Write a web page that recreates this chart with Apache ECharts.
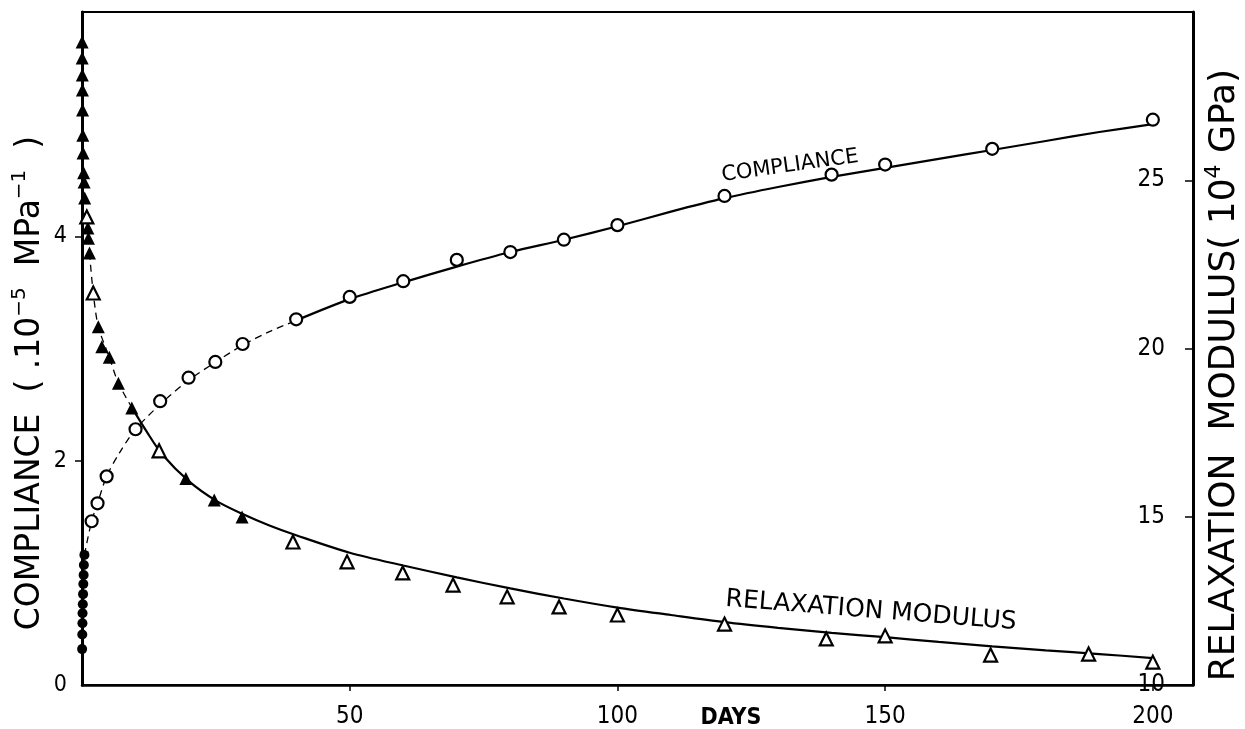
<!DOCTYPE html>
<html>
<head>
<meta charset="utf-8">
<script src="https://cdn.jsdelivr.net/npm/echarts@6/dist/echarts.min.js"></script>
<style>
  html, body { margin: 0; padding: 0; background: #fff; }
  #chart { width: 1245px; height: 729px; }
</style>
</head>
<body>
<div id="chart"></div>
<script>
// Compliance (left axis, 10^-5 MPa^-1): filled points at the first hours, open points afterwards
const complianceEarlyDays = [0.02, 0.05, 0.08, 0.1, 0.15, 0.2, 0.25, 0.3, 0.35, 0.45];
const complianceEarly     = [0.32, 0.45, 0.55, 0.64, 0.72, 0.81, 0.90, 0.98, 1.07, 1.16];
const complianceDays = [1.8, 2.9, 4.6, 10, 14.6, 19.9, 24.9, 30, 40, 50, 60, 70, 80, 90, 100, 120, 140, 150, 170, 200];
const compliance     = [1.46, 1.62, 1.86, 2.28, 2.53, 2.74, 2.88, 3.04, 3.26, 3.46, 3.60, 3.79, 3.86, 3.97, 4.10, 4.36, 4.55, 4.64, 4.78, 5.04];
// Fitted compliance curve
const complianceFitDays = [0.45, 1.8, 2.9, 4.6, 7, 10, 15, 20, 25, 30, 35, 40, 50, 60, 70, 80, 90, 100, 110, 120, 130, 140, 150, 160, 170, 180, 190, 200];
const complianceFit     = [1.16, 1.46, 1.62, 1.86, 2.07, 2.28, 2.52, 2.72, 2.88, 3.03, 3.15, 3.25, 3.44, 3.59, 3.73, 3.86, 3.97, 4.09, 4.22, 4.34, 4.44, 4.53, 4.61, 4.69, 4.77, 4.85, 4.93, 5.00];
const complianceDashedUntil = 40;

// Relaxation modulus (right axis, 10^4 GPa)
const modulusFilledDays = [0.02, 0.04, 0.06, 0.08, 0.1, 0.15, 0.2, 0.3, 0.4, 0.5, 1.1, 1.2, 1.4, 3.05, 3.7, 5.1, 6.8, 9.3, 19.4, 24.7, 29.9];
const modulusFilled     = [29.11, 28.63, 28.13, 27.68, 27.09, 26.34, 25.81, 25.22, 24.95, 24.47, 23.58, 23.28, 22.84, 20.65, 20.05, 19.74, 18.97, 18.23, 16.14, 15.50, 14.99];
const modulusOpenDays = [0.9, 2.1, 14.4, 39.4, 49.5, 59.9, 69.3, 79.4, 89.1, 100, 120, 139, 150, 169.7, 188, 200];
const modulusOpen     = [23.91, 21.65, 16.96, 14.25, 13.66, 13.33, 12.97, 12.62, 12.32, 12.08, 11.81, 11.37, 11.46, 10.89, 10.92, 10.68];
// Fitted relaxation curve
const modulusFitDays = [1.4, 2.1, 3.05, 5.1, 6.8, 9.3, 12, 15, 20, 25, 30, 35, 40, 50, 60, 70, 80, 90, 100, 110, 120, 130, 140, 150, 160, 170, 180, 190, 200];
const modulusFit     = [22.84, 21.65, 20.65, 19.74, 18.97, 18.25, 17.55, 16.85, 16.05, 15.48, 15.08, 14.74, 14.45, 13.93, 13.55, 13.2, 12.87, 12.57, 12.3, 12.08, 11.87, 11.7, 11.55, 11.42, 11.28, 11.15, 11.03, 10.92, 10.8];
const modulusDashedUntil = 9.3;

// Tick positions and labels on each axis
const dayTicks = [50, 100, 150, 200];
const complianceTicks = [0, 2, 4];
const complianceTickMarks = [2, 4];
const modulusTicks = [10, 15, 20, 25];
const modulusTickMarks = [15, 20, 25];

const pairs = (xs, ys) => xs.map((x, i) => [x, ys[i]]);
const splitFit = (xs, ys, cut) => ({
  dashed: pairs(xs, ys).filter(p => p[0] <= cut),
  solid: pairs(xs, ys).filter(p => p[0] >= cut)
});
const compFit = splitFit(complianceFitDays, complianceFit, complianceDashedUntil);
const modFit = splitFit(modulusFitDays, modulusFit, modulusDashedUntil);

const INK = '#000';
const tickFont = { color: INK, fontFamily: 'DejaVu Sans Condensed', fontSize: 24 };

const chart = echarts.init(document.getElementById('chart'), null, { renderer: 'canvas' });

const fitLine = (data, yIndex, dashed) => ({
  type: 'line', data, yAxisIndex: yIndex, showSymbol: false, symbol: 'none',
  smooth: 0.3, silent: true, z: 2,
  lineStyle: { color: INK, width: dashed ? 1.3 : 2.2, type: dashed ? [7, 5] : 'solid' }
});
const marks = (data, yIndex, symbol, size, filled) => ({
  type: 'scatter', data, yAxisIndex: yIndex, symbol, symbolSize: size, clip: false, z: 3,
  itemStyle: filled
    ? { color: INK, opacity: 1 }
    : { color: '#fff', borderColor: INK, borderWidth: 2.2, opacity: 1 }
});

// Rich text pieces for the rotated axis titles (superscript exponents)
const titleRich = size => ({
  m: { fontFamily: 'DejaVu Sans', fontSize: size, lineHeight: size + 8, fill: INK },
  s: { fontFamily: 'DejaVu Sans', fontSize: Math.round(size * 0.62), verticalAlign: 'top', lineHeight: size + 8, fill: INK }
});

chart.setOption({
  animation: false,
  backgroundColor: '#fff',
  grid: { left: 82, right: 52, top: 12, bottom: 44, show: true, borderColor: INK, borderWidth: 2 },
  xAxis: {
    type: 'value', min: 0, max: 207.5, interval: 50,
    axisLine: { show: true, onZero: false, lineStyle: { color: INK, width: 2.5 } },
    axisTick: { show: true, length: 6, customValues: dayTicks, lineStyle: { color: INK, width: 1.5 } },
    axisLabel: { ...tickFont, margin: 20, customValues: dayTicks,
      formatter: v => dayTicks.includes(v) ? String(v) : '' },
    splitLine: { show: false }
  },
  yAxis: [
    {
      type: 'value', min: 0, max: 6, interval: 2, position: 'left',
      axisLine: { show: true, onZero: false, lineStyle: { color: INK, width: 3 } },
      axisTick: { show: true, length: 7, customValues: complianceTickMarks, lineStyle: { color: INK, width: 1.5 } },
      axisLabel: { ...tickFont, fontSize: 23, margin: 15, customValues: complianceTicks,
        formatter: v => complianceTicks.includes(v) ? String(v) : '' },
      splitLine: { show: false }
    },
    {
      type: 'value', min: 10, max: 30, interval: 5, position: 'right',
      axisLine: { show: true, onZero: false, lineStyle: { color: INK, width: 3 } },
      axisTick: { show: true, inside: true, length: 8, customValues: modulusTickMarks, lineStyle: { color: INK, width: 1.5 } },
      axisLabel: { ...tickFont, inside: true, margin: 28, customValues: modulusTicks,
        formatter: v => modulusTicks.includes(v) ? String(v) : '' },
      splitLine: { show: false }
    }
  ],
  series: [
    fitLine(compFit.dashed, 0, true),
    fitLine(compFit.solid, 0, false),
    fitLine(modFit.dashed, 1, true),
    fitLine(modFit.solid, 1, false),
    marks(pairs(complianceEarlyDays, complianceEarly), 0, 'circle', 10, true),
    marks(pairs(complianceDays, compliance), 0, 'circle', 12, false),
    marks(pairs(modulusFilledDays, modulusFilled), 1, 'triangle', 13, true),
    marks(pairs(modulusOpenDays, modulusOpen), 1, 'triangle', 13, false)
  ],
  graphic: [
    { type: 'text', x: 790, y: 166, rotation: 0.14, z: 10,
      style: { text: 'COMPLIANCE', font: '21px "DejaVu Sans"', fill: INK, align: 'center', verticalAlign: 'middle' } },
    { type: 'text', x: 871, y: 611, rotation: -0.08, z: 10,
      style: { text: 'RELAXATION MODULUS', font: '25px "DejaVu Sans"', fill: INK, align: 'center', verticalAlign: 'middle' } },
    { type: 'text', x: 731, y: 718, z: 10,
      style: { text: 'DAYS', font: 'bold 23px "DejaVu Sans Condensed"', fill: INK, align: 'center', verticalAlign: 'middle' } },
    { type: 'text', x: 30, y: 383, rotation: Math.PI / 2, z: 10,
      style: { text: '{m|COMPLIANCE  ( .10}{s|−5}{m|  MPa}{s|−1}{m|  )}', rich: titleRich(33),
        align: 'center', verticalAlign: 'middle' } },
    { type: 'text', x: 1225, y: 375, rotation: Math.PI / 2, z: 10,
      style: { text: '{m|RELAXATION  MODULUS( 10}{s|4}{m| GPa)}', rich: titleRich(36),
        align: 'center', verticalAlign: 'middle' } }
  ]
});
</script>
</body>
</html>
